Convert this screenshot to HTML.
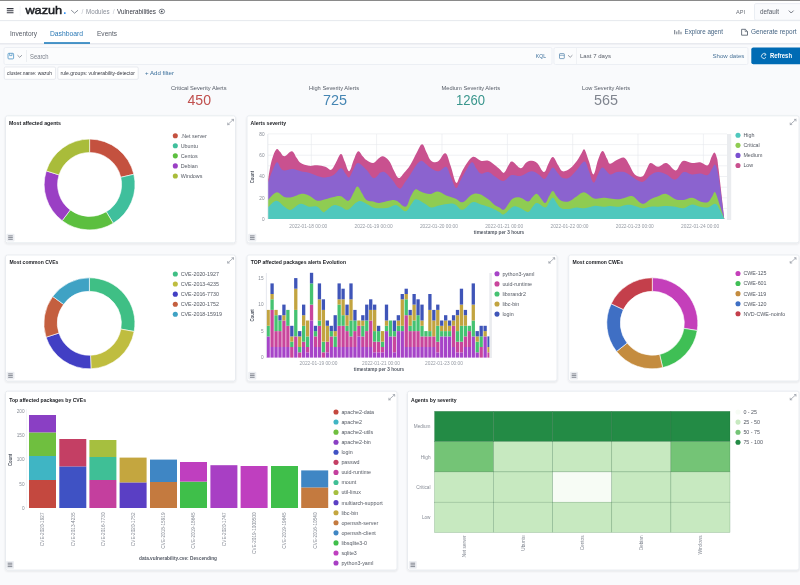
<!DOCTYPE html>
<html><head><meta charset="utf-8"><title>Wazuh - Vulnerabilities</title>
<style>
html,body{margin:0;padding:0;}
body{width:800px;height:585px;overflow:hidden;background:#f9fafc;font-family:"Liberation Sans", sans-serif;position:relative;}
svg{position:absolute;left:0;top:0;filter:blur(0.45px);}
svg text{font-family:"Liberation Sans", sans-serif;}
</style></head><body>
<svg width="800" height="585" viewBox="0 0 800 585">
<defs>
<filter id="sh" x="-5%" y="-5%" width="110%" height="115%"><feGaussianBlur in="SourceAlpha" stdDeviation="1.2"/><feOffset dy="0.8"/><feComponentTransfer><feFuncA type="linear" slope="0.10"/></feComponentTransfer><feMerge><feMergeNode/><feMergeNode in="SourceGraphic"/></feMerge></filter>
</defs>

<rect x="0" y="0" width="800" height="44" fill="#fff"/>
<rect x="0" y="0" width="800" height="1" fill="#8a8a8a"/>
<rect x="0" y="20.2" width="800" height="0.9" fill="#e3e6ec"/>
<rect x="0" y="43.4" width="800" height="0.9" fill="#d9dde4"/>
<g stroke="#343741" stroke-width="1.1"><path d="M6.8 8.6H13.5M6.8 10.7H13.5M6.8 12.8H13.5"/></g>
<rect x="19.8" y="6" width="0.5" height="10" fill="#eceff3"/>
<text x="25.4" y="14.35" font-size="10.9" fill="#1a1c21" stroke="#1a1c21" stroke-width="0.45" textLength="36.8" lengthAdjust="spacingAndGlyphs">wazuh</text>
<text x="63.2" y="14.4" font-size="11" font-weight="700" fill="#3595f9">.</text>
<path d="M71.2 10.2L74.6 13.2L78 10.2" stroke="#6a717d" stroke-width="0.8" fill="none"/>
<text x="81.6" y="14" font-size="6.8" fill="#c2c6ce">/</text>
<text x="86" y="13.8" font-size="6.3" fill="#8a8f99" textLength="23.5" lengthAdjust="spacingAndGlyphs">Modules</text>
<text x="112.8" y="14" font-size="6.8" fill="#c2c6ce">/</text>
<text x="117" y="13.8" font-size="6.3" fill="#343741" textLength="39.0" lengthAdjust="spacingAndGlyphs">Vulnerabilities</text>
<ellipse cx="161.9" cy="11.4" rx="2.7" ry="2.3" fill="none" stroke="#5a606b" stroke-width="0.75"/><circle cx="161.7" cy="11.4" r="0.95" fill="#3a3f49"/>
<text x="736" y="14" font-size="5.8" fill="#6b7079" textLength="9.0" lengthAdjust="spacingAndGlyphs">API</text>
<rect x="754.5" y="3.6" width="48" height="16.6" rx="1.5" fill="#fafbfd" stroke="#e3e7ee" stroke-width="0.7"/>
<text x="760" y="14" font-size="6.3" fill="#555b66" textLength="19.0" lengthAdjust="spacingAndGlyphs">default</text>
<path d="M788.8 10.6L791.2 13L793.6 10.6" stroke="#555b66" stroke-width="0.8" fill="none"/>
<text x="10" y="35.8" font-size="7" fill="#555b66" textLength="27.0" lengthAdjust="spacingAndGlyphs">Inventory</text>
<text x="50" y="35.8" font-size="7" fill="#2a78b5" textLength="33.0" lengthAdjust="spacingAndGlyphs">Dashboard</text>
<text x="97" y="35.8" font-size="7" fill="#555b66" textLength="20.0" lengthAdjust="spacingAndGlyphs">Events</text>
<rect x="44" y="42.3" width="46" height="1.4" fill="#006bb4"/>
<g stroke="#55606e" stroke-width="0.85" fill="none"><path d="M674.7 30V34.3M676.8 31.5V34.3M678.9 30V34.3M681 31.8V34.3"/></g>
<text x="684.5" y="34.3" font-size="6.3" fill="#466584" textLength="38.5" lengthAdjust="spacingAndGlyphs">Explore agent</text>
<path d="M741.6 29.3H745.4L747.5 31.4V35.2H741.6Z" stroke="#4a5563" stroke-width="0.8" fill="none"/><path d="M745.2 29.4V31.6H747.4" stroke="#4a5563" stroke-width="0.6" fill="none"/>
<text x="751" y="34.3" font-size="6.3" fill="#466584" textLength="45.6" lengthAdjust="spacingAndGlyphs">Generate report</text>
<rect x="4" y="47.5" width="548" height="17" rx="1.5" fill="#fbfcfd" stroke="#e6eaf0" stroke-width="0.7"/>
<rect x="8" y="53.3" width="5.6" height="5.6" rx="0.8" fill="none" stroke="#4d93c4" stroke-width="0.8"/><path d="M9.6 53.3V55.6H12V53.3" stroke="#4d93c4" stroke-width="0.7" fill="none"/>
<path d="M17.5 55.2L19.7 57.3L21.9 55.2" stroke="#6a717d" stroke-width="0.7" fill="none"/>
<rect x="26.2" y="50" width="0.6" height="12" fill="#e3e6ec"/>
<text x="30" y="58.6" font-size="6.5" fill="#7b818c" textLength="18.5" lengthAdjust="spacingAndGlyphs">Search</text>
<text x="535.8" y="58.2" font-size="5.4" fill="#3b6f9b" textLength="10.2" lengthAdjust="spacingAndGlyphs">KQL</text>
<rect x="554" y="47.5" width="194" height="17" rx="1.5" fill="#fbfcfd" stroke="#e6eaf0" stroke-width="0.7"/>
<rect x="559.5" y="53.6" width="4.8" height="5" rx="0.6" fill="none" stroke="#4d7fa8" stroke-width="0.7"/><path d="M559.5 55.3H564.3" stroke="#4d7fa8" stroke-width="0.6"/>
<path d="M568 55.2L570.2 57.3L572.4 55.2" stroke="#6a717d" stroke-width="0.7" fill="none"/>
<rect x="576" y="48" width="0.6" height="16" fill="#e9ecf1"/>
<text x="580" y="57.6" font-size="6.2" fill="#555b66" textLength="31.0" lengthAdjust="spacingAndGlyphs">Last 7 days</text>
<text x="712.5" y="57.5" font-size="6.2" fill="#4a7499" textLength="31.9" lengthAdjust="spacingAndGlyphs">Show dates</text>
<rect x="751.3" y="47.5" width="52" height="16.8" rx="2" fill="#006bb4"/>
<path d="M765.6 54.4A2.4 2.4 0 1 0 766 57.2" stroke="#fff" stroke-width="0.8" fill="none"/><path d="M764.6 53.2L766.2 54.6L764.4 55.6" stroke="#fff" stroke-width="0.7" fill="none"/>
<text x="770" y="57.9" font-size="6.3" fill="#fff" font-weight="700" textLength="22.0" lengthAdjust="spacingAndGlyphs">Refresh</text>
<rect x="4.3" y="67" width="51.2" height="12.3" rx="1.2" fill="#fff" stroke="#dfe3ea" stroke-width="0.7"/>
<text x="7" y="75.2" font-size="5.2" fill="#343741" textLength="45.0" lengthAdjust="spacingAndGlyphs">cluster.name: wazuh</text>
<rect x="57.8" y="67" width="80.4" height="12.3" rx="1.2" fill="#fff" stroke="#dfe3ea" stroke-width="0.7"/>
<text x="60.5" y="75.2" font-size="5.2" fill="#343741" textLength="74.5" lengthAdjust="spacingAndGlyphs">rule.groups: vulnerability-detector</text>
<text x="145" y="75.3" font-size="5.8" fill="#3b6f9b" textLength="29.0" lengthAdjust="spacingAndGlyphs">+ Add filter</text>
<text x="171" y="90.2" font-size="5.6" fill="#555b66" textLength="55.5" lengthAdjust="spacingAndGlyphs">Critical Severity Alerts</text>
<text x="187.5" y="105.4" font-size="14.2" fill="#c0504e" textLength="23.5" lengthAdjust="spacingAndGlyphs">450</text>
<text x="309" y="90.2" font-size="5.6" fill="#555b66" textLength="50.0" lengthAdjust="spacingAndGlyphs">High Severity Alerts</text>
<text x="323" y="105.4" font-size="14.2" fill="#4585b3" textLength="24.0" lengthAdjust="spacingAndGlyphs">725</text>
<text x="441.5" y="90.2" font-size="5.6" fill="#555b66" textLength="58.5" lengthAdjust="spacingAndGlyphs">Medium Severity Alerts</text>
<text x="456" y="105.4" font-size="14.2" fill="#3a968d" textLength="29.0" lengthAdjust="spacingAndGlyphs">1260</text>
<text x="582" y="90.2" font-size="5.6" fill="#555b66" textLength="48.0" lengthAdjust="spacingAndGlyphs">Low Severity Alerts</text>
<text x="594" y="105.4" font-size="14.2" fill="#80858f" textLength="24.0" lengthAdjust="spacingAndGlyphs">565</text>
<g filter="url(#sh)">
<rect x="5.5" y="115.8" width="230" height="127" rx="2" fill="#fff" stroke="#e4e8ee" stroke-width="0.8"/>
<rect x="247" y="115.8" width="552" height="127" rx="2" fill="#fff" stroke="#e4e8ee" stroke-width="0.8"/>
<rect x="5.5" y="255" width="230" height="126" rx="2" fill="#fff" stroke="#e4e8ee" stroke-width="0.8"/>
<rect x="247" y="255" width="310" height="126" rx="2" fill="#fff" stroke="#e4e8ee" stroke-width="0.8"/>
<rect x="568.7" y="255" width="230.3" height="126" rx="2" fill="#fff" stroke="#e4e8ee" stroke-width="0.8"/>
<rect x="5.5" y="391.2" width="391.5" height="178.8" rx="2" fill="#fff" stroke="#e4e8ee" stroke-width="0.8"/>
<rect x="407.5" y="391.2" width="391.5" height="178.8" rx="2" fill="#fff" stroke="#e4e8ee" stroke-width="0.8"/>
</g>
<text x="9" y="125.4" font-size="5.2" fill="#1a1c21" font-weight="700" textLength="52.0" lengthAdjust="spacingAndGlyphs">Most affected agents</text>
<g stroke="#9a9fa8" stroke-width="0.8" fill="none" stroke-linecap="round"><path d="M227.70000000000002 124.6L233.5 119.39999999999999"/><path d="M231.9 119.39999999999999H233.5V121.0"/><path d="M227.70000000000002 123.0V124.6H229.3"/></g>
<path d="M89.60 139.10A45.4 45.4 0 0 1 133.84 174.29L120.78 177.30A32 32 0 0 0 89.60 152.50Z" fill="#c4513f" stroke="#fff" stroke-width="0.6"/><path d="M133.84 174.29A45.4 45.4 0 0 1 113.25 223.25L106.27 211.81A32 32 0 0 0 120.78 177.30Z" fill="#3fbf9c" stroke="#fff" stroke-width="0.6"/><path d="M113.25 223.25A45.4 45.4 0 0 1 62.15 220.66L70.25 209.99A32 32 0 0 0 106.27 211.81Z" fill="#5cbf3f" stroke="#fff" stroke-width="0.6"/><path d="M62.15 220.66A45.4 45.4 0 0 1 46.28 170.92L59.06 174.93A32 32 0 0 0 70.25 209.99Z" fill="#9a3fc4" stroke="#fff" stroke-width="0.6"/><path d="M46.28 170.92A45.4 45.4 0 0 1 89.60 139.10L89.60 152.50A32 32 0 0 0 59.06 174.93Z" fill="#a9bc3a" stroke="#fff" stroke-width="0.6"/>
<circle cx="175.3" cy="135.70" r="2.55" fill="#c4513f"/><text x="180.70000000000002" y="137.60" font-size="5.35" fill="#535862">.Net server</text><circle cx="175.3" cy="145.77" r="2.55" fill="#3fbf9c"/><text x="180.70000000000002" y="147.67" font-size="5.35" fill="#535862">Ubuntu</text><circle cx="175.3" cy="155.84" r="2.55" fill="#5cbf3f"/><text x="180.70000000000002" y="157.74" font-size="5.35" fill="#535862">Centos</text><circle cx="175.3" cy="165.91" r="2.55" fill="#9a3fc4"/><text x="180.70000000000002" y="167.81" font-size="5.35" fill="#535862">Debian</text><circle cx="175.3" cy="175.98" r="2.55" fill="#a9bc3a"/><text x="180.70000000000002" y="177.88" font-size="5.35" fill="#535862">Windows</text>
<rect x="6.5" y="233.7" width="8" height="7.8" rx="1" fill="#eceef2"/><g stroke="#7a7f89" stroke-width="0.9"><path d="M8.2 235.89999999999998H12.8M8.2 237.6H12.8M8.2 239.29999999999998H12.8"/></g>
<text x="9.4" y="263.7" font-size="5.2" fill="#1a1c21" font-weight="700" textLength="49.0" lengthAdjust="spacingAndGlyphs">Most common CVEs</text>
<g stroke="#9a9fa8" stroke-width="0.8" fill="none" stroke-linecap="round"><path d="M227.70000000000002 263.0L233.5 257.8"/><path d="M231.9 257.8H233.5V259.4"/><path d="M227.70000000000002 261.4V263.0H229.3"/></g>
<path d="M89.40 277.80A45.5 45.5 0 0 1 134.15 331.51L120.87 329.08A32 32 0 0 0 89.40 291.30Z" fill="#3fbf85" stroke="#fff" stroke-width="0.6"/><path d="M134.15 331.51A45.5 45.5 0 0 1 90.99 368.77L90.52 355.28A32 32 0 0 0 120.87 329.08Z" fill="#bfbd3f" stroke="#fff" stroke-width="0.6"/><path d="M90.99 368.77A45.5 45.5 0 0 1 46.08 337.21L58.93 333.08A32 32 0 0 0 90.52 355.28Z" fill="#423fc4" stroke="#fff" stroke-width="0.6"/><path d="M46.08 337.21A45.5 45.5 0 0 1 52.68 296.43L63.58 304.40A32 32 0 0 0 58.93 333.08Z" fill="#c45f3f" stroke="#fff" stroke-width="0.6"/><path d="M52.68 296.43A45.5 45.5 0 0 1 89.40 277.80L89.40 291.30A32 32 0 0 0 63.58 304.40Z" fill="#3fa2c4" stroke="#fff" stroke-width="0.6"/>
<circle cx="175.3" cy="274.00" r="2.55" fill="#3fbf85"/><text x="180.70000000000002" y="275.90" font-size="5.35" fill="#535862">CVE-2020-1927</text><circle cx="175.3" cy="284.07" r="2.55" fill="#bfbd3f"/><text x="180.70000000000002" y="285.97" font-size="5.35" fill="#535862">CVE-2013-4235</text><circle cx="175.3" cy="294.14" r="2.55" fill="#423fc4"/><text x="180.70000000000002" y="296.04" font-size="5.35" fill="#535862">CVE-2016-7730</text><circle cx="175.3" cy="304.21" r="2.55" fill="#c45f3f"/><text x="180.70000000000002" y="306.11" font-size="5.35" fill="#535862">CVE-2020-1752</text><circle cx="175.3" cy="314.28" r="2.55" fill="#3fa2c4"/><text x="180.70000000000002" y="316.18" font-size="5.35" fill="#535862">CVE-2018-15919</text>
<rect x="6.5" y="371.7" width="8" height="7.8" rx="1" fill="#eceef2"/><g stroke="#7a7f89" stroke-width="0.9"><path d="M8.2 373.9H12.8M8.2 375.59999999999997H12.8M8.2 377.3H12.8"/></g>
<text x="572.5" y="263.7" font-size="5.2" fill="#1a1c21" font-weight="700" textLength="50.5" lengthAdjust="spacingAndGlyphs">Most common CWEs</text>
<g stroke="#9a9fa8" stroke-width="0.8" fill="none" stroke-linecap="round"><path d="M790.1999999999999 263.0L796.0 257.8"/><path d="M794.4 257.8H796.0V259.4"/><path d="M790.1999999999999 261.4V263.0H791.8"/></g>
<path d="M652.30 277.80A45.5 45.5 0 0 1 697.23 330.50L683.90 328.36A32 32 0 0 0 652.30 291.30Z" fill="#c43fba" stroke="#fff" stroke-width="0.6"/><path d="M697.23 330.50A45.5 45.5 0 0 1 662.69 367.60L659.61 354.45A32 32 0 0 0 683.90 328.36Z" fill="#3fbf55" stroke="#fff" stroke-width="0.6"/><path d="M662.69 367.60A45.5 45.5 0 0 1 616.54 351.44L627.15 343.09A32 32 0 0 0 659.61 354.45Z" fill="#c48c3f" stroke="#fff" stroke-width="0.6"/><path d="M616.54 351.44A45.5 45.5 0 0 1 611.20 303.78L623.39 309.57A32 32 0 0 0 627.15 343.09Z" fill="#3f6fc4" stroke="#fff" stroke-width="0.6"/><path d="M611.20 303.78A45.5 45.5 0 0 1 652.30 277.80L652.30 291.30A32 32 0 0 0 623.39 309.57Z" fill="#c43f4b" stroke="#fff" stroke-width="0.6"/>
<circle cx="738" cy="273.50" r="2.55" fill="#c43fba"/><text x="743.4" y="275.40" font-size="5.35" fill="#535862">CWE-125</text><circle cx="738" cy="283.57" r="2.55" fill="#3fbf55"/><text x="743.4" y="285.47" font-size="5.35" fill="#535862">CWE-601</text><circle cx="738" cy="293.64" r="2.55" fill="#c48c3f"/><text x="743.4" y="295.54" font-size="5.35" fill="#535862">CWE-119</text><circle cx="738" cy="303.71" r="2.55" fill="#3f6fc4"/><text x="743.4" y="305.61" font-size="5.35" fill="#535862">CWE-120</text><circle cx="738" cy="313.78" r="2.55" fill="#c43f4b"/><text x="743.4" y="315.68" font-size="5.35" fill="#535862">NVD-CWE-noinfo</text>
<rect x="570.0" y="371.7" width="8" height="7.8" rx="1" fill="#eceef2"/><g stroke="#7a7f89" stroke-width="0.9"><path d="M571.7 373.9H576.3M571.7 375.59999999999997H576.3M571.7 377.3H576.3"/></g>
<text x="250.5" y="125.4" font-size="5.2" fill="#1a1c21" font-weight="700" textLength="35.5" lengthAdjust="spacingAndGlyphs">Alerts severity</text>
<g stroke="#9a9fa8" stroke-width="0.8" fill="none" stroke-linecap="round"><path d="M790.1999999999999 124.6L796.0 119.39999999999999"/><path d="M794.4 119.39999999999999H796.0V121.0"/><path d="M790.1999999999999 123.0V124.6H791.8"/></g>
<path d="M268 208.4H727" stroke="#e6e8ec" stroke-width="0.6"/><path d="M268 197.8H727" stroke="#e6e8ec" stroke-width="0.6"/><path d="M268 187.2H727" stroke="#e6e8ec" stroke-width="0.6"/><path d="M268 176.5H727" stroke="#e6e8ec" stroke-width="0.6"/><path d="M268 165.8H727" stroke="#e6e8ec" stroke-width="0.6"/><path d="M268 155.2H727" stroke="#e6e8ec" stroke-width="0.6"/><path d="M268 144.6H727" stroke="#e6e8ec" stroke-width="0.6"/><path d="M268 133.9H727" stroke="#e6e8ec" stroke-width="0.6"/><path d="M311.3 134V219.1" stroke="#e6e8ec" stroke-width="0.6"/><path d="M376.6 134V219.1" stroke="#e6e8ec" stroke-width="0.6"/><path d="M442.0 134V219.1" stroke="#e6e8ec" stroke-width="0.6"/><path d="M507.4 134V219.1" stroke="#e6e8ec" stroke-width="0.6"/><path d="M572.7 134V219.1" stroke="#e6e8ec" stroke-width="0.6"/><path d="M638.0 134V219.1" stroke="#e6e8ec" stroke-width="0.6"/><path d="M703.4 134V219.1" stroke="#e6e8ec" stroke-width="0.6"/>
<path d="M268.0 219.1L268.0 179.6C268.7 176.1 270.3 165.5 271.8 160.1C273.3 154.7 274.8 151.0 276.3 149.5C277.8 148.1 278.6 150.6 280.0 151.8C281.5 153.0 282.3 156.4 284.4 156.3C286.5 156.2 289.6 151.1 291.8 151.3C294.0 151.6 295.0 155.7 296.6 157.8C298.2 159.9 298.6 161.6 300.8 163.1C303.0 164.5 306.0 165.4 308.9 165.8C311.9 166.2 314.2 165.1 317.2 165.3C320.1 165.5 322.8 166.0 325.3 166.8C327.8 167.6 329.3 170.5 331.2 169.8C333.0 169.2 333.9 165.9 335.7 163.1C337.4 160.2 339.3 154.3 340.9 154.1C342.6 153.8 343.2 158.5 344.7 161.6C346.2 164.7 347.6 171.6 349.2 171.3C350.8 171.1 352.1 163.7 353.7 160.1C355.3 156.5 356.5 152.0 358.1 151.3C359.7 150.7 361.3 154.7 362.7 156.3C364.2 157.9 364.5 158.8 366.4 160.1C368.2 161.3 371.1 163.3 373.3 163.1C375.5 162.8 376.8 159.8 378.5 158.6C380.3 157.3 381.1 155.9 383.0 156.3C384.9 156.7 387.0 158.1 389.0 160.8C391.1 163.5 392.5 168.2 394.3 171.3C396.0 174.5 397.0 177.8 398.8 178.1C400.6 178.4 402.0 175.2 404.1 172.8C406.1 170.5 407.8 169.0 410.1 165.3C412.4 161.7 414.7 156.3 416.8 152.5C419.0 148.8 420.3 144.3 422.1 144.3C423.9 144.3 425.0 149.6 426.6 152.5C428.2 155.5 429.1 159.2 431.1 160.8C433.2 162.4 435.3 162.9 437.9 161.6C440.5 160.2 443.1 152.5 445.4 153.3C447.7 154.1 448.8 160.8 450.7 166.1C452.6 171.4 454.3 180.7 455.9 182.6C457.6 184.5 458.2 179.3 459.7 176.6C461.2 173.9 461.9 171.1 464.2 167.6C466.5 164.1 469.5 158.3 472.5 157.1C475.5 155.8 477.9 160.1 480.8 160.8C483.6 161.5 485.7 160.0 488.3 160.8C490.8 161.6 493.0 163.8 495.0 165.3C497.0 166.8 497.9 167.7 499.5 169.1C501.1 170.4 502.4 173.5 504.0 172.8C505.6 172.2 507.0 167.4 508.5 165.3C510.0 163.3 510.1 161.0 512.3 161.6C514.5 162.1 518.1 168.1 520.6 168.3C523.0 168.6 524.1 164.4 525.8 163.1C527.6 161.7 528.3 160.8 530.3 160.8C532.4 160.8 534.7 161.0 537.1 163.1C539.5 165.1 541.8 172.0 543.9 172.1C545.9 172.2 546.8 166.5 548.4 163.8C550.0 161.1 551.1 156.8 552.9 157.1C554.7 157.3 556.4 162.8 558.2 165.3C559.9 167.9 560.5 170.8 562.7 171.3C564.8 171.9 567.6 170.2 570.2 168.3C572.8 166.4 574.9 163.5 577.0 160.8C579.0 158.1 580.1 155.3 581.5 153.3C582.8 151.3 583.1 148.1 584.5 149.5C585.8 151.0 587.4 157.1 589.0 161.6C590.6 166.0 591.9 174.6 593.5 174.4C595.1 174.1 596.4 164.3 598.0 160.1C599.6 155.9 600.9 151.3 602.5 151.0C604.1 150.8 605.7 156.3 607.0 158.6C608.4 160.9 608.2 163.6 610.0 163.8C611.8 164.1 614.2 161.2 616.8 160.1C619.3 159.0 622.0 156.9 624.3 157.8C626.6 158.8 627.7 162.4 629.5 165.3C631.4 168.3 632.5 172.3 634.8 174.4C637.1 176.4 640.2 177.6 642.3 176.6C644.5 175.7 645.4 171.5 646.8 169.1C648.3 166.7 648.6 163.5 650.6 163.1C652.6 162.7 655.3 166.8 658.1 166.8C661.0 166.8 663.3 162.4 666.4 163.1C669.5 163.8 673.0 170.3 675.4 170.6C677.8 170.9 678.4 166.3 679.9 164.6C681.4 162.8 681.5 161.1 683.7 160.8C685.8 160.5 689.0 162.8 692.0 163.1C694.9 163.3 697.4 161.9 700.2 162.3C703.1 162.7 705.7 166.3 707.7 165.3C709.8 164.4 710.3 159.4 711.5 157.1C712.7 154.8 713.5 152.3 714.5 152.5C715.5 152.8 716.3 155.6 717.1 158.6C717.8 161.5 717.3 158.2 718.6 169.1C719.9 180.0 723.3 210.0 724.3 219.0L724.3 219.1Z" fill="#c9518f"/>
<path d="M268.0 219.1L268.0 182.6C268.8 180.5 270.9 174.2 272.5 170.6C274.1 166.9 275.5 162.7 277.0 162.3C278.5 161.9 279.5 166.8 280.8 168.3C282.1 169.8 282.3 170.5 284.4 170.6C286.5 170.7 289.6 169.0 292.5 169.1C295.5 169.2 297.8 170.7 300.8 171.3C303.7 172.0 306.0 172.0 308.9 172.8C311.9 173.7 314.2 175.0 317.2 175.9C320.1 176.7 322.4 177.5 325.3 177.4C328.3 177.2 330.8 176.7 333.6 175.1C336.4 173.5 338.8 168.6 340.9 168.3C343.1 168.1 344.0 172.0 345.5 173.6C346.9 175.2 347.7 178.2 349.2 177.4C350.7 176.5 352.1 171.7 353.7 169.1C355.3 166.5 355.8 162.9 358.1 163.1C360.4 163.2 363.6 167.1 366.4 169.8C369.1 172.5 371.1 177.3 373.3 178.1C375.5 178.9 377.3 175.3 378.5 174.4C379.7 173.4 378.9 173.3 380.0 172.8C381.1 172.4 382.3 170.9 384.5 172.1C386.7 173.3 389.3 176.6 392.0 179.6C394.7 182.6 397.2 188.1 399.5 188.6C401.8 189.2 402.9 185.1 404.8 182.6C406.7 180.2 408.0 178.2 410.1 175.1C412.1 172.0 414.1 167.9 416.1 165.3C418.1 162.8 419.5 161.0 421.4 160.8C423.2 160.7 424.9 163.2 426.6 164.6C428.4 165.9 429.0 167.1 431.1 168.3C433.3 169.6 435.9 171.6 438.6 171.3C441.4 171.1 444.0 165.9 446.2 166.8C448.3 167.8 448.9 172.8 450.7 176.6C452.4 180.4 454.3 186.9 455.9 187.9C457.6 188.8 458.2 184.4 459.7 181.9C461.2 179.3 462.0 177.1 464.2 173.6C466.4 170.1 469.6 163.3 471.7 162.3C473.9 161.4 474.6 166.3 476.2 168.3C477.9 170.4 478.6 172.9 480.8 173.6C482.9 174.3 485.7 171.6 488.3 172.1C490.8 172.6 492.3 175.0 495.0 176.6C497.7 178.2 500.3 181.4 503.3 181.1C506.2 180.8 508.4 176.1 511.5 175.1C514.7 174.2 517.0 176.5 520.6 175.9C524.1 175.2 527.8 171.6 531.1 171.3C534.3 171.1 536.2 173.0 538.6 174.4C541.0 175.7 542.7 179.1 544.6 178.9C546.5 178.6 547.6 174.9 549.1 172.8C550.6 170.8 551.3 167.5 552.9 167.6C554.5 167.7 556.4 171.7 558.2 173.6C559.9 175.5 560.6 177.4 562.7 178.1C564.7 178.8 566.9 178.8 569.4 177.4C572.0 175.9 574.2 172.7 577.0 169.8C579.7 167.0 582.3 161.3 584.5 161.6C586.6 161.8 587.4 167.6 589.0 171.3C590.6 175.1 591.9 182.1 593.5 182.6C595.1 183.2 596.4 177.1 598.0 174.4C599.6 171.6 600.4 167.6 602.5 167.6C604.7 167.6 607.4 173.5 610.0 174.4C612.6 175.2 614.2 172.5 616.8 172.1C619.3 171.7 621.7 171.4 624.3 172.1C626.9 172.8 627.8 174.1 631.1 175.9C634.3 177.6 638.8 182.0 642.3 181.9C645.8 181.7 647.8 176.9 650.6 175.1C653.4 173.3 655.3 172.2 658.1 172.1C661.0 172.0 663.3 173.0 666.4 174.4C669.5 175.7 672.3 180.0 675.4 179.6C678.5 179.2 680.7 173.0 683.7 172.1C686.7 171.2 689.0 174.1 692.0 174.4C694.9 174.6 697.4 173.5 700.2 173.6C703.1 173.7 705.6 176.1 707.7 175.1C709.9 174.2 710.9 170.2 712.3 168.3C713.6 166.5 714.1 163.4 715.3 164.9C716.4 166.4 716.9 166.9 718.6 176.6C720.2 186.4 723.3 211.4 724.3 219.0L724.3 219.1Z" fill="#8b63cf"/>
<path d="M268.0 219.1L268.0 199.9C269.5 198.6 273.3 192.9 276.3 192.4C279.2 191.9 281.5 196.1 284.4 196.9C287.3 197.7 289.6 197.5 292.5 196.9C295.5 196.4 297.8 194.2 300.8 193.9C303.7 193.6 306.0 194.2 308.9 195.4C311.9 196.6 314.2 200.0 317.2 200.7C320.1 201.3 322.4 199.8 325.3 199.2C328.3 198.5 330.8 197.5 333.6 196.9C336.4 196.4 338.3 195.5 340.9 196.2C343.6 196.8 346.2 201.3 348.5 200.7C350.8 200.0 352.1 195.0 353.7 192.4C355.3 189.8 356.0 186.2 357.5 186.4C359.0 186.5 360.4 190.7 362.0 193.2C363.6 195.6 364.3 198.4 366.4 199.9C368.4 201.4 370.9 200.9 373.3 201.4C375.6 202.0 376.5 203.1 379.3 202.9C382.1 202.8 385.9 201.1 389.0 200.7C392.1 200.3 393.6 199.6 396.5 200.7C399.5 201.8 403.0 207.5 405.6 206.7C408.1 205.9 409.1 199.3 410.8 196.2C412.6 193.0 413.6 190.2 415.3 189.4C417.1 188.6 418.8 191.0 420.6 191.6C422.4 192.3 423.2 192.7 425.1 193.2C427.0 193.6 428.8 194.2 431.1 193.9C433.4 193.6 435.2 191.4 437.9 191.6C440.6 191.9 443.1 194.2 446.2 195.4C449.3 196.6 452.2 197.2 455.2 198.4C458.2 199.6 459.7 202.8 462.7 202.2C465.7 201.5 468.8 196.1 471.7 194.7C474.7 193.2 476.3 193.1 479.2 193.9C482.2 194.7 485.4 197.1 488.3 199.2C491.1 201.2 493.0 203.7 495.0 205.2C497.0 206.7 497.9 206.6 499.5 207.4C501.1 208.2 502.4 210.4 504.0 209.7C505.6 209.0 506.9 205.7 508.5 203.7C510.2 201.6 510.9 199.5 513.0 198.4C515.2 197.3 517.9 197.1 520.6 197.7C523.3 198.2 525.9 201.6 528.1 201.4C530.2 201.3 531.0 198.3 532.6 196.9C534.2 195.6 535.5 193.5 537.1 193.9C538.7 194.3 540.1 197.5 541.6 199.2C543.1 200.8 544.0 203.5 545.4 202.9C546.7 202.4 547.8 198.3 549.1 196.2C550.5 194.0 551.5 190.9 552.9 190.9C554.2 190.9 555.2 194.4 556.7 196.2C558.1 197.9 559.0 199.7 561.2 200.7C563.3 201.6 565.8 202.2 568.7 201.4C571.5 200.6 574.1 197.8 577.0 196.2C579.8 194.5 581.4 192.0 584.5 192.4C587.6 192.8 590.9 197.5 594.2 198.4C597.6 199.4 600.4 197.7 603.3 197.7C606.1 197.7 607.2 198.1 610.0 198.4C612.8 198.7 616.3 199.3 619.0 199.2C621.7 199.0 622.6 198.2 625.0 197.7C627.5 197.1 629.4 195.1 632.6 196.2C635.7 197.2 639.1 203.1 642.3 203.7C645.6 204.2 647.8 200.5 650.6 199.2C653.4 197.8 655.3 197.1 658.1 196.2C661.0 195.2 663.3 193.4 666.4 193.9C669.5 194.4 672.3 198.1 675.4 199.2C678.5 200.2 680.7 200.2 683.7 199.9C686.7 199.6 689.0 197.4 692.0 197.7C694.9 197.9 697.4 200.6 700.2 201.4C703.1 202.2 705.6 203.1 707.7 202.2C709.9 201.2 710.9 197.9 712.3 196.2C713.6 194.4 713.9 190.8 715.3 192.4C716.6 194.0 718.2 200.4 719.8 205.2C721.4 210.0 723.5 216.5 724.3 219.0L724.3 219.1Z" fill="#8fcc52"/>
<path d="M268.0 219.1L268.0 207.4C269.5 206.2 273.3 200.8 276.3 200.7C279.2 200.5 282.1 205.1 284.4 206.7C286.7 208.3 287.6 209.3 289.1 209.7C290.5 210.1 290.4 210.0 292.5 208.9C294.6 207.9 297.8 204.1 300.8 203.7C303.7 203.3 306.0 206.1 308.9 206.7C311.9 207.2 314.7 205.7 317.2 206.7C319.7 207.6 321.4 211.1 322.9 211.9C324.4 212.8 323.4 212.4 325.3 211.2C327.2 210.0 330.8 206.0 333.6 205.2C336.4 204.4 338.4 205.9 340.9 206.7C343.5 207.5 344.6 210.6 347.7 209.7C350.8 208.7 354.7 202.5 358.1 201.4C361.4 200.3 363.6 202.6 366.4 203.7C369.1 204.8 370.9 206.6 373.3 207.4C375.6 208.2 376.5 208.2 379.3 208.2C382.1 208.2 385.9 208.0 389.0 207.4C392.1 206.9 393.6 204.5 396.5 205.2C399.5 205.9 402.9 211.5 405.6 211.2C408.3 210.9 409.7 205.8 411.6 203.7C413.5 201.5 413.7 199.2 416.1 199.2C418.5 199.2 422.4 202.2 425.1 203.7C427.8 205.2 428.4 207.2 431.1 207.4C433.8 207.7 436.9 205.9 440.2 205.2C443.4 204.5 446.5 203.8 449.2 203.7C451.9 203.5 452.8 203.3 455.2 204.4C457.6 205.5 459.6 210.1 462.7 209.7C465.8 209.3 469.2 203.1 472.5 202.2C475.7 201.2 477.9 203.6 480.8 204.4C483.6 205.2 485.7 205.7 488.3 206.7C490.8 207.6 493.0 208.7 495.0 209.7C497.0 210.6 497.9 211.1 499.5 211.9C501.1 212.8 501.6 215.2 504.0 214.2C506.5 213.3 510.1 207.8 513.0 206.7C516.0 205.6 517.9 207.2 520.6 208.2C523.3 209.1 525.9 212.2 528.1 211.9C530.2 211.7 531.0 208.3 532.6 206.7C534.2 205.1 534.8 202.8 537.1 202.9C539.4 203.1 543.2 207.6 545.4 207.4C547.5 207.3 547.8 203.9 549.1 202.2C550.5 200.4 551.5 197.5 552.9 197.7C554.2 197.8 555.2 201.0 556.7 202.9C558.1 204.8 559.0 207.1 561.2 208.2C563.3 209.3 565.8 209.1 568.7 208.9C571.5 208.8 574.1 207.6 577.0 207.4C579.8 207.3 581.4 208.5 584.5 208.2C587.6 207.9 590.9 206.2 594.2 205.9C597.6 205.7 600.4 206.7 603.3 206.7C606.1 206.7 607.2 205.9 610.0 205.9C612.8 205.9 616.3 206.8 619.0 206.7C621.7 206.5 622.6 205.5 625.0 205.2C627.5 204.9 629.4 204.6 632.6 205.2C635.7 205.7 639.1 207.9 642.3 208.2C645.6 208.5 647.8 207.0 650.6 206.7C653.4 206.4 655.3 206.8 658.1 206.7C661.0 206.5 663.3 205.9 666.4 205.9C669.5 205.9 672.3 206.3 675.4 206.7C678.5 207.1 680.7 208.6 683.7 208.2C686.7 207.8 689.0 204.7 692.0 204.4C694.9 204.2 697.4 206.1 700.2 206.7C703.1 207.2 705.0 208.0 707.7 207.4C710.5 206.9 713.1 203.3 715.3 203.7C717.4 204.1 718.2 206.9 719.8 209.7C721.4 212.5 723.5 217.3 724.3 219.0L724.3 219.1Z" fill="#4fc8bd"/>
<path d="M267.8 134V219.1" stroke="#dfe3ea" stroke-width="0.8"/>
<rect x="727" y="134" width="4.2" height="86" fill="#eaecef"/>
<text x="264.5" y="220.8" font-size="4.7" fill="#868b95" text-anchor="end">0</text>
<text x="264.5" y="199.5" font-size="4.7" fill="#868b95" text-anchor="end">20</text>
<text x="264.5" y="178.2" font-size="4.7" fill="#868b95" text-anchor="end">40</text>
<text x="264.5" y="156.9" font-size="4.7" fill="#868b95" text-anchor="end">60</text>
<text x="264.5" y="135.6" font-size="4.7" fill="#868b95" text-anchor="end">80</text>
<text transform="translate(253.6,183.2) rotate(-90)" font-size="4.7" font-weight="700" fill="#555b66" textLength="12.3" lengthAdjust="spacingAndGlyphs">Count</text>
<text x="289.3" y="228" font-size="4.9" fill="#959aa3" textLength="38.0" lengthAdjust="spacingAndGlyphs">2022-01-18 00:00</text>
<text x="354.6" y="228" font-size="4.9" fill="#959aa3" textLength="38.0" lengthAdjust="spacingAndGlyphs">2022-01-19 00:00</text>
<text x="419.9" y="228" font-size="4.9" fill="#959aa3" textLength="38.0" lengthAdjust="spacingAndGlyphs">2022-01-20 00:00</text>
<text x="485.2" y="228" font-size="4.9" fill="#959aa3" textLength="38.0" lengthAdjust="spacingAndGlyphs">2022-01-21 00:00</text>
<text x="550.5" y="228" font-size="4.9" fill="#959aa3" textLength="38.0" lengthAdjust="spacingAndGlyphs">2022-01-22 00:00</text>
<text x="615.8" y="228" font-size="4.9" fill="#959aa3" textLength="38.0" lengthAdjust="spacingAndGlyphs">2022-01-23 00:00</text>
<text x="681.1" y="228" font-size="4.9" fill="#959aa3" textLength="38.0" lengthAdjust="spacingAndGlyphs">2022-01-24 00:00</text>
<text x="473.8" y="233.8" font-size="4.8" fill="#555b66" font-weight="700" textLength="50.4" lengthAdjust="spacingAndGlyphs">timestamp per 3 hours</text>
<circle cx="738" cy="135.30" r="2.55" fill="#4fc8bd"/><text x="743.4" y="137.20" font-size="5.35" fill="#535862">High</text><circle cx="738" cy="145.35" r="2.55" fill="#8fcc52"/><text x="743.4" y="147.25" font-size="5.35" fill="#535862">Critical</text><circle cx="738" cy="155.40" r="2.55" fill="#7a4fd0"/><text x="743.4" y="157.30" font-size="5.35" fill="#535862">Medium</text><circle cx="738" cy="165.45" r="2.55" fill="#c9518f"/><text x="743.4" y="167.35" font-size="5.35" fill="#535862">Low</text>
<rect x="248.3" y="233.7" width="8" height="7.8" rx="1" fill="#eceef2"/><g stroke="#7a7f89" stroke-width="0.9"><path d="M250.0 235.89999999999998H254.60000000000002M250.0 237.6H254.60000000000002M250.0 239.29999999999998H254.60000000000002"/></g>
<text x="250.8" y="263.7" font-size="5.2" fill="#1a1c21" font-weight="700" textLength="95.2" lengthAdjust="spacingAndGlyphs">TOP affected packages alerts Evolution</text>
<g stroke="#9a9fa8" stroke-width="0.8" fill="none" stroke-linecap="round"><path d="M548.9 263.0L554.7 257.8"/><path d="M553.1 257.8H554.7V259.4"/><path d="M548.9 261.4V263.0H550.5"/></g>
<rect x="266.50" y="336.40" width="3.3" height="21.20" fill="#a644c8"/><rect x="266.50" y="325.80" width="3.3" height="10.60" fill="#45c271"/><rect x="266.50" y="309.90" width="3.3" height="15.90" fill="#c2a440"/><rect x="270.44" y="347.00" width="3.3" height="10.60" fill="#a644c8"/><rect x="270.44" y="309.90" width="3.3" height="37.10" fill="#c9459c"/><rect x="270.44" y="299.30" width="3.3" height="10.60" fill="#45c271"/><rect x="270.44" y="294.00" width="3.3" height="5.30" fill="#c2a440"/><rect x="270.44" y="283.40" width="3.3" height="10.60" fill="#3f55b8"/><rect x="274.39" y="347.00" width="3.3" height="10.60" fill="#a644c8"/><rect x="274.39" y="331.10" width="3.3" height="15.90" fill="#c9459c"/><rect x="274.39" y="315.20" width="3.3" height="15.90" fill="#45c271"/><rect x="274.39" y="309.90" width="3.3" height="5.30" fill="#c2a440"/><rect x="278.33" y="347.00" width="3.3" height="10.60" fill="#a644c8"/><rect x="278.33" y="331.10" width="3.3" height="15.90" fill="#c9459c"/><rect x="278.33" y="320.50" width="3.3" height="10.60" fill="#45c271"/><rect x="278.33" y="315.20" width="3.3" height="5.30" fill="#3f55b8"/><rect x="282.28" y="347.00" width="3.3" height="10.60" fill="#a644c8"/><rect x="282.28" y="320.50" width="3.3" height="26.50" fill="#c9459c"/><rect x="282.28" y="315.20" width="3.3" height="5.30" fill="#c2a440"/><rect x="282.28" y="304.60" width="3.3" height="10.60" fill="#3f55b8"/><rect x="286.23" y="347.00" width="3.3" height="10.60" fill="#a644c8"/><rect x="286.23" y="325.80" width="3.3" height="21.20" fill="#c9459c"/><rect x="286.23" y="309.90" width="3.3" height="15.90" fill="#45c271"/><rect x="290.17" y="347.00" width="3.3" height="10.60" fill="#c9459c"/><rect x="290.17" y="341.70" width="3.3" height="5.30" fill="#45c271"/><rect x="290.17" y="336.40" width="3.3" height="5.30" fill="#c2a440"/><rect x="290.17" y="325.80" width="3.3" height="10.60" fill="#3f55b8"/><rect x="294.12" y="347.00" width="3.3" height="10.60" fill="#a644c8"/><rect x="294.12" y="336.40" width="3.3" height="10.60" fill="#c9459c"/><rect x="294.12" y="309.90" width="3.3" height="26.50" fill="#45c271"/><rect x="294.12" y="288.70" width="3.3" height="21.20" fill="#c2a440"/><rect x="294.12" y="278.10" width="3.3" height="10.60" fill="#3f55b8"/><rect x="298.06" y="352.30" width="3.3" height="5.30" fill="#c9459c"/><rect x="298.06" y="347.00" width="3.3" height="5.30" fill="#45c271"/><rect x="298.06" y="336.40" width="3.3" height="10.60" fill="#c2a440"/><rect x="298.06" y="331.10" width="3.3" height="5.30" fill="#3f55b8"/><rect x="302.00" y="347.00" width="3.3" height="10.60" fill="#a644c8"/><rect x="302.00" y="341.70" width="3.3" height="5.30" fill="#c9459c"/><rect x="302.00" y="325.80" width="3.3" height="15.90" fill="#45c271"/><rect x="302.00" y="315.20" width="3.3" height="10.60" fill="#c2a440"/><rect x="302.00" y="304.60" width="3.3" height="10.60" fill="#3f55b8"/><rect x="305.95" y="352.30" width="3.3" height="5.30" fill="#a644c8"/><rect x="305.95" y="347.00" width="3.3" height="5.30" fill="#c9459c"/><rect x="305.95" y="336.40" width="3.3" height="10.60" fill="#45c271"/><rect x="305.95" y="320.50" width="3.3" height="15.90" fill="#c2a440"/><rect x="309.89" y="320.50" width="3.3" height="37.10" fill="#a644c8"/><rect x="309.89" y="304.60" width="3.3" height="15.90" fill="#c9459c"/><rect x="309.89" y="283.40" width="3.3" height="21.20" fill="#45c271"/><rect x="309.89" y="272.80" width="3.3" height="10.60" fill="#3f55b8"/><rect x="313.84" y="347.00" width="3.3" height="10.60" fill="#a644c8"/><rect x="313.84" y="336.40" width="3.3" height="10.60" fill="#c9459c"/><rect x="313.84" y="331.10" width="3.3" height="5.30" fill="#45c271"/><rect x="313.84" y="325.80" width="3.3" height="5.30" fill="#3f55b8"/><rect x="317.78" y="347.00" width="3.3" height="10.60" fill="#a644c8"/><rect x="317.78" y="325.80" width="3.3" height="21.20" fill="#c9459c"/><rect x="317.78" y="320.50" width="3.3" height="5.30" fill="#45c271"/><rect x="317.78" y="299.30" width="3.3" height="21.20" fill="#c2a440"/><rect x="317.78" y="283.40" width="3.3" height="15.90" fill="#3f55b8"/><rect x="321.73" y="352.30" width="3.3" height="5.30" fill="#c9459c"/><rect x="321.73" y="341.70" width="3.3" height="10.60" fill="#45c271"/><rect x="321.73" y="309.90" width="3.3" height="31.80" fill="#c2a440"/><rect x="321.73" y="299.30" width="3.3" height="10.60" fill="#3f55b8"/><rect x="325.68" y="352.30" width="3.3" height="5.30" fill="#a644c8"/><rect x="325.68" y="341.70" width="3.3" height="10.60" fill="#c9459c"/><rect x="325.68" y="325.80" width="3.3" height="15.90" fill="#c2a440"/><rect x="325.68" y="320.50" width="3.3" height="5.30" fill="#3f55b8"/><rect x="329.62" y="347.00" width="3.3" height="10.60" fill="#a644c8"/><rect x="329.62" y="336.40" width="3.3" height="10.60" fill="#c9459c"/><rect x="329.62" y="331.10" width="3.3" height="5.30" fill="#45c271"/><rect x="329.62" y="325.80" width="3.3" height="5.30" fill="#3f55b8"/><rect x="333.56" y="347.00" width="3.3" height="10.60" fill="#a644c8"/><rect x="333.56" y="336.40" width="3.3" height="10.60" fill="#45c271"/><rect x="333.56" y="331.10" width="3.3" height="5.30" fill="#c2a440"/><rect x="333.56" y="315.20" width="3.3" height="15.90" fill="#3f55b8"/><rect x="337.51" y="347.00" width="3.3" height="10.60" fill="#a644c8"/><rect x="337.51" y="325.80" width="3.3" height="21.20" fill="#c9459c"/><rect x="337.51" y="304.60" width="3.3" height="21.20" fill="#45c271"/><rect x="337.51" y="299.30" width="3.3" height="5.30" fill="#c2a440"/><rect x="337.51" y="283.40" width="3.3" height="15.90" fill="#3f55b8"/><rect x="341.45" y="347.00" width="3.3" height="10.60" fill="#a644c8"/><rect x="341.45" y="325.80" width="3.3" height="21.20" fill="#c9459c"/><rect x="341.45" y="315.20" width="3.3" height="10.60" fill="#45c271"/><rect x="341.45" y="299.30" width="3.3" height="15.90" fill="#c2a440"/><rect x="341.45" y="288.70" width="3.3" height="10.60" fill="#3f55b8"/><rect x="345.40" y="347.00" width="3.3" height="10.60" fill="#a644c8"/><rect x="345.40" y="331.10" width="3.3" height="15.90" fill="#c9459c"/><rect x="345.40" y="325.80" width="3.3" height="5.30" fill="#45c271"/><rect x="345.40" y="315.20" width="3.3" height="10.60" fill="#c2a440"/><rect x="345.40" y="304.60" width="3.3" height="10.60" fill="#3f55b8"/><rect x="349.35" y="347.00" width="3.3" height="10.60" fill="#a644c8"/><rect x="349.35" y="336.40" width="3.3" height="10.60" fill="#c9459c"/><rect x="349.35" y="320.50" width="3.3" height="15.90" fill="#45c271"/><rect x="349.35" y="299.30" width="3.3" height="21.20" fill="#c2a440"/><rect x="349.35" y="283.40" width="3.3" height="15.90" fill="#3f55b8"/><rect x="353.29" y="347.00" width="3.3" height="10.60" fill="#a644c8"/><rect x="353.29" y="331.10" width="3.3" height="15.90" fill="#c9459c"/><rect x="353.29" y="320.50" width="3.3" height="10.60" fill="#45c271"/><rect x="353.29" y="309.90" width="3.3" height="10.60" fill="#3f55b8"/><rect x="357.24" y="336.40" width="3.3" height="21.20" fill="#a644c8"/><rect x="357.24" y="325.80" width="3.3" height="10.60" fill="#c9459c"/><rect x="357.24" y="320.50" width="3.3" height="5.30" fill="#c2a440"/><rect x="361.18" y="347.00" width="3.3" height="10.60" fill="#a644c8"/><rect x="361.18" y="336.40" width="3.3" height="10.60" fill="#c9459c"/><rect x="361.18" y="325.80" width="3.3" height="10.60" fill="#45c271"/><rect x="361.18" y="320.50" width="3.3" height="5.30" fill="#c2a440"/><rect x="361.18" y="315.20" width="3.3" height="5.30" fill="#3f55b8"/><rect x="365.12" y="347.00" width="3.3" height="10.60" fill="#a644c8"/><rect x="365.12" y="331.10" width="3.3" height="15.90" fill="#c9459c"/><rect x="365.12" y="320.50" width="3.3" height="10.60" fill="#45c271"/><rect x="365.12" y="304.60" width="3.3" height="15.90" fill="#3f55b8"/><rect x="369.07" y="347.00" width="3.3" height="10.60" fill="#a644c8"/><rect x="369.07" y="320.50" width="3.3" height="26.50" fill="#c9459c"/><rect x="369.07" y="309.90" width="3.3" height="10.60" fill="#c2a440"/><rect x="369.07" y="299.30" width="3.3" height="10.60" fill="#3f55b8"/><rect x="373.01" y="352.30" width="3.3" height="5.30" fill="#a644c8"/><rect x="373.01" y="341.70" width="3.3" height="10.60" fill="#c9459c"/><rect x="373.01" y="331.10" width="3.3" height="10.60" fill="#45c271"/><rect x="373.01" y="309.90" width="3.3" height="21.20" fill="#c2a440"/><rect x="373.01" y="304.60" width="3.3" height="5.30" fill="#3f55b8"/><rect x="376.96" y="352.30" width="3.3" height="5.30" fill="#a644c8"/><rect x="376.96" y="341.70" width="3.3" height="10.60" fill="#c9459c"/><rect x="376.96" y="331.10" width="3.3" height="10.60" fill="#45c271"/><rect x="376.96" y="325.80" width="3.3" height="5.30" fill="#3f55b8"/><rect x="380.90" y="352.30" width="3.3" height="5.30" fill="#a644c8"/><rect x="380.90" y="347.00" width="3.3" height="5.30" fill="#c9459c"/><rect x="380.90" y="341.70" width="3.3" height="5.30" fill="#45c271"/><rect x="380.90" y="331.10" width="3.3" height="10.60" fill="#c2a440"/><rect x="384.85" y="331.10" width="3.3" height="26.50" fill="#a644c8"/><rect x="384.85" y="325.80" width="3.3" height="5.30" fill="#45c271"/><rect x="384.85" y="320.50" width="3.3" height="5.30" fill="#c2a440"/><rect x="384.85" y="304.60" width="3.3" height="15.90" fill="#3f55b8"/><rect x="388.80" y="336.40" width="3.3" height="21.20" fill="#a644c8"/><rect x="388.80" y="320.50" width="3.3" height="15.90" fill="#45c271"/><rect x="392.74" y="352.30" width="3.3" height="5.30" fill="#a644c8"/><rect x="392.74" y="336.40" width="3.3" height="15.90" fill="#c9459c"/><rect x="392.74" y="331.10" width="3.3" height="5.30" fill="#45c271"/><rect x="392.74" y="320.50" width="3.3" height="10.60" fill="#3f55b8"/><rect x="396.69" y="331.10" width="3.3" height="26.50" fill="#a644c8"/><rect x="396.69" y="325.80" width="3.3" height="5.30" fill="#45c271"/><rect x="396.69" y="320.50" width="3.3" height="5.30" fill="#c2a440"/><rect x="396.69" y="315.20" width="3.3" height="5.30" fill="#3f55b8"/><rect x="400.63" y="331.10" width="3.3" height="26.50" fill="#a644c8"/><rect x="400.63" y="325.80" width="3.3" height="5.30" fill="#45c271"/><rect x="400.63" y="299.30" width="3.3" height="26.50" fill="#c2a440"/><rect x="400.63" y="294.00" width="3.3" height="5.30" fill="#3f55b8"/><rect x="404.57" y="347.00" width="3.3" height="10.60" fill="#a644c8"/><rect x="404.57" y="315.20" width="3.3" height="31.80" fill="#c9459c"/><rect x="404.57" y="299.30" width="3.3" height="15.90" fill="#45c271"/><rect x="404.57" y="294.00" width="3.3" height="5.30" fill="#c2a440"/><rect x="404.57" y="288.70" width="3.3" height="5.30" fill="#3f55b8"/><rect x="408.52" y="347.00" width="3.3" height="10.60" fill="#a644c8"/><rect x="408.52" y="331.10" width="3.3" height="15.90" fill="#c9459c"/><rect x="408.52" y="325.80" width="3.3" height="5.30" fill="#45c271"/><rect x="408.52" y="315.20" width="3.3" height="10.60" fill="#c2a440"/><rect x="408.52" y="309.90" width="3.3" height="5.30" fill="#3f55b8"/><rect x="412.47" y="347.00" width="3.3" height="10.60" fill="#a644c8"/><rect x="412.47" y="331.10" width="3.3" height="15.90" fill="#c9459c"/><rect x="412.47" y="320.50" width="3.3" height="10.60" fill="#45c271"/><rect x="412.47" y="304.60" width="3.3" height="15.90" fill="#c2a440"/><rect x="412.47" y="294.00" width="3.3" height="10.60" fill="#3f55b8"/><rect x="416.41" y="347.00" width="3.3" height="10.60" fill="#a644c8"/><rect x="416.41" y="331.10" width="3.3" height="15.90" fill="#c9459c"/><rect x="416.41" y="315.20" width="3.3" height="15.90" fill="#45c271"/><rect x="416.41" y="299.30" width="3.3" height="15.90" fill="#3f55b8"/><rect x="420.36" y="347.00" width="3.3" height="10.60" fill="#a644c8"/><rect x="420.36" y="336.40" width="3.3" height="10.60" fill="#c9459c"/><rect x="420.36" y="325.80" width="3.3" height="10.60" fill="#45c271"/><rect x="420.36" y="320.50" width="3.3" height="5.30" fill="#c2a440"/><rect x="420.36" y="304.60" width="3.3" height="15.90" fill="#3f55b8"/><rect x="424.30" y="347.00" width="3.3" height="10.60" fill="#a644c8"/><rect x="424.30" y="336.40" width="3.3" height="10.60" fill="#c9459c"/><rect x="424.30" y="331.10" width="3.3" height="5.30" fill="#45c271"/><rect x="428.25" y="347.00" width="3.3" height="10.60" fill="#a644c8"/><rect x="428.25" y="336.40" width="3.3" height="10.60" fill="#c9459c"/><rect x="428.25" y="331.10" width="3.3" height="5.30" fill="#45c271"/><rect x="428.25" y="309.90" width="3.3" height="21.20" fill="#c2a440"/><rect x="428.25" y="294.00" width="3.3" height="15.90" fill="#3f55b8"/><rect x="432.19" y="347.00" width="3.3" height="10.60" fill="#a644c8"/><rect x="432.19" y="336.40" width="3.3" height="10.60" fill="#c9459c"/><rect x="432.19" y="320.50" width="3.3" height="15.90" fill="#c2a440"/><rect x="432.19" y="309.90" width="3.3" height="10.60" fill="#3f55b8"/><rect x="436.13" y="352.30" width="3.3" height="5.30" fill="#a644c8"/><rect x="436.13" y="341.70" width="3.3" height="10.60" fill="#c9459c"/><rect x="436.13" y="325.80" width="3.3" height="15.90" fill="#45c271"/><rect x="436.13" y="309.90" width="3.3" height="15.90" fill="#c2a440"/><rect x="436.13" y="304.60" width="3.3" height="5.30" fill="#3f55b8"/><rect x="440.08" y="336.40" width="3.3" height="21.20" fill="#a644c8"/><rect x="440.08" y="331.10" width="3.3" height="5.30" fill="#45c271"/><rect x="440.08" y="325.80" width="3.3" height="5.30" fill="#c2a440"/><rect x="440.08" y="320.50" width="3.3" height="5.30" fill="#3f55b8"/><rect x="444.02" y="336.40" width="3.3" height="21.20" fill="#a644c8"/><rect x="444.02" y="331.10" width="3.3" height="5.30" fill="#45c271"/><rect x="444.02" y="320.50" width="3.3" height="10.60" fill="#c2a440"/><rect x="444.02" y="315.20" width="3.3" height="5.30" fill="#3f55b8"/><rect x="447.97" y="336.40" width="3.3" height="21.20" fill="#a644c8"/><rect x="447.97" y="331.10" width="3.3" height="5.30" fill="#45c271"/><rect x="447.97" y="325.80" width="3.3" height="5.30" fill="#c2a440"/><rect x="447.97" y="320.50" width="3.3" height="5.30" fill="#3f55b8"/><rect x="451.91" y="347.00" width="3.3" height="10.60" fill="#a644c8"/><rect x="451.91" y="325.80" width="3.3" height="21.20" fill="#c9459c"/><rect x="451.91" y="320.50" width="3.3" height="5.30" fill="#c2a440"/><rect x="451.91" y="315.20" width="3.3" height="5.30" fill="#3f55b8"/><rect x="455.86" y="352.30" width="3.3" height="5.30" fill="#a644c8"/><rect x="455.86" y="341.70" width="3.3" height="10.60" fill="#c9459c"/><rect x="455.86" y="331.10" width="3.3" height="10.60" fill="#45c271"/><rect x="455.86" y="315.20" width="3.3" height="15.90" fill="#c2a440"/><rect x="455.86" y="309.90" width="3.3" height="5.30" fill="#3f55b8"/><rect x="459.80" y="352.30" width="3.3" height="5.30" fill="#a644c8"/><rect x="459.80" y="341.70" width="3.3" height="10.60" fill="#c9459c"/><rect x="459.80" y="325.80" width="3.3" height="15.90" fill="#45c271"/><rect x="459.80" y="304.60" width="3.3" height="21.20" fill="#c2a440"/><rect x="459.80" y="288.70" width="3.3" height="15.90" fill="#3f55b8"/><rect x="463.75" y="347.00" width="3.3" height="10.60" fill="#a644c8"/><rect x="463.75" y="336.40" width="3.3" height="10.60" fill="#c9459c"/><rect x="463.75" y="325.80" width="3.3" height="10.60" fill="#45c271"/><rect x="463.75" y="315.20" width="3.3" height="10.60" fill="#c2a440"/><rect x="463.75" y="309.90" width="3.3" height="5.30" fill="#3f55b8"/><rect x="467.69" y="347.00" width="3.3" height="10.60" fill="#a644c8"/><rect x="467.69" y="331.10" width="3.3" height="15.90" fill="#c9459c"/><rect x="467.69" y="325.80" width="3.3" height="5.30" fill="#45c271"/><rect x="471.64" y="336.40" width="3.3" height="21.20" fill="#a644c8"/><rect x="471.64" y="320.50" width="3.3" height="15.90" fill="#45c271"/><rect x="471.64" y="304.60" width="3.3" height="15.90" fill="#c2a440"/><rect x="471.64" y="283.40" width="3.3" height="21.20" fill="#3f55b8"/><rect x="475.58" y="352.30" width="3.3" height="5.30" fill="#a644c8"/><rect x="475.58" y="341.70" width="3.3" height="10.60" fill="#45c271"/><rect x="475.58" y="336.40" width="3.3" height="5.30" fill="#c2a440"/><rect x="475.58" y="331.10" width="3.3" height="5.30" fill="#3f55b8"/><rect x="479.53" y="347.00" width="3.3" height="10.60" fill="#c9459c"/><rect x="479.53" y="336.40" width="3.3" height="10.60" fill="#45c271"/><rect x="479.53" y="325.80" width="3.3" height="10.60" fill="#3f55b8"/><rect x="483.48" y="336.40" width="3.3" height="21.20" fill="#a644c8"/><rect x="483.48" y="331.10" width="3.3" height="5.30" fill="#c2a440"/><rect x="483.48" y="325.80" width="3.3" height="5.30" fill="#3f55b8"/><rect x="487.42" y="352.30" width="3.3" height="5.30" fill="#c9459c"/><rect x="487.42" y="347.00" width="3.3" height="5.30" fill="#c2a440"/><rect x="487.42" y="336.40" width="3.3" height="10.60" fill="#3f55b8"/>
<path d="M266.4 273V357.6" stroke="#dfe3ea" stroke-width="0.8"/>
<rect x="489.3" y="273" width="2.6" height="85" fill="#eaecef"/>
<text x="263.5" y="359.3" font-size="4.7" fill="#868b95" text-anchor="end">0</text>
<text x="263.5" y="332.8" font-size="4.7" fill="#868b95" text-anchor="end">5</text>
<text x="263.5" y="306.3" font-size="4.7" fill="#868b95" text-anchor="end">10</text>
<text x="263.5" y="279.8" font-size="4.7" fill="#868b95" text-anchor="end">15</text>
<text transform="translate(253.6,321.5) rotate(-90)" font-size="4.7" font-weight="700" fill="#555b66" textLength="12.3" lengthAdjust="spacingAndGlyphs">Count</text>
<text x="299.6" y="364.8" font-size="4.9" fill="#959aa3" textLength="37.8" lengthAdjust="spacingAndGlyphs">2022-01-19 00:00</text>
<text x="362.1" y="364.8" font-size="4.9" fill="#959aa3" textLength="37.8" lengthAdjust="spacingAndGlyphs">2022-01-21 00:00</text>
<text x="425.1" y="364.8" font-size="4.9" fill="#959aa3" textLength="37.8" lengthAdjust="spacingAndGlyphs">2022-01-23 00:00</text>
<text x="353.8" y="371.1" font-size="4.8" fill="#555b66" font-weight="700" textLength="50.4" lengthAdjust="spacingAndGlyphs">timestamp per 3 hours</text>
<circle cx="497" cy="273.80" r="2.55" fill="#a644c8"/><text x="502.4" y="275.70" font-size="5.35" fill="#535862">python3-yaml</text><circle cx="497" cy="283.88" r="2.55" fill="#c9459c"/><text x="502.4" y="285.78" font-size="5.35" fill="#535862">uuid-runtime</text><circle cx="497" cy="293.96" r="2.55" fill="#45c271"/><text x="502.4" y="295.86" font-size="5.35" fill="#535862">libxrandr2</text><circle cx="497" cy="304.04" r="2.55" fill="#c2a440"/><text x="502.4" y="305.94" font-size="5.35" fill="#535862">libc-bin</text><circle cx="497" cy="314.12" r="2.55" fill="#3f55b8"/><text x="502.4" y="316.02" font-size="5.35" fill="#535862">login</text>
<rect x="248.3" y="371.7" width="8" height="7.8" rx="1" fill="#eceef2"/><g stroke="#7a7f89" stroke-width="0.9"><path d="M250.0 373.9H254.60000000000002M250.0 375.59999999999997H254.60000000000002M250.0 377.3H254.60000000000002"/></g>
<text x="9.2" y="402.2" font-size="5.2" fill="#1a1c21" font-weight="700" textLength="76.8" lengthAdjust="spacingAndGlyphs">Top affected packages by CVEs</text>
<g stroke="#9a9fa8" stroke-width="0.8" fill="none" stroke-linecap="round"><path d="M388.9 399.8L394.7 394.6"/><path d="M393.1 394.6H394.7V396.2"/><path d="M388.9 398.2V399.8H390.5"/></g>
<rect x="29" y="480" width="27" height="28.00" fill="#c4483f"/><rect x="29" y="456" width="27" height="24.00" fill="#3fb5c4"/><rect x="29" y="432.4" width="27" height="23.60" fill="#6fbf3f"/><rect x="29" y="415" width="27" height="17.40" fill="#8a3fc4"/><rect x="59.3" y="466.4" width="27" height="41.60" fill="#3f52c4"/><rect x="59.3" y="439" width="27" height="27.40" fill="#c43f64"/><rect x="89.4" y="480" width="27" height="28.00" fill="#c43f9e"/><rect x="89.4" y="457" width="27" height="23.00" fill="#3fbf96"/><rect x="89.4" y="440" width="27" height="17.00" fill="#a6bf3f"/><rect x="119.6" y="482.4" width="27" height="25.60" fill="#5a3fc4"/><rect x="119.6" y="457.6" width="27" height="24.80" fill="#c4a63f"/><rect x="150" y="482" width="27" height="26.00" fill="#c47a3f"/><rect x="150" y="459.6" width="27" height="22.40" fill="#3f86c4"/><rect x="180" y="481.6" width="27" height="26.40" fill="#3fbf4a"/><rect x="180" y="462" width="27" height="19.60" fill="#bf3fbf"/><rect x="210.4" y="465.2" width="27" height="42.80" fill="#a83fc4"/><rect x="240.6" y="466" width="27" height="42.00" fill="#bf3fbf"/><rect x="271" y="466" width="27" height="42.00" fill="#3fbf4a"/><rect x="301.2" y="487.4" width="27" height="20.60" fill="#c47a3f"/><rect x="301.2" y="470.4" width="27" height="17.00" fill="#3f86c4"/>
<path d="M26.5 409V508" stroke="#eceff3" stroke-width="0.7"/>
<text x="24.5" y="509.7" font-size="4.7" fill="#868b95" text-anchor="end">0</text>
<text x="24.5" y="485.5" font-size="4.7" fill="#868b95" text-anchor="end">50</text>
<text x="24.5" y="461.3" font-size="4.7" fill="#868b95" text-anchor="end">100</text>
<text x="24.5" y="437.1" font-size="4.7" fill="#868b95" text-anchor="end">150</text>
<text x="24.5" y="412.9" font-size="4.7" fill="#868b95" text-anchor="end">200</text>
<text transform="translate(12.2,466) rotate(-90)" font-size="4.7" font-weight="700" fill="#555b66" textLength="12.3" lengthAdjust="spacingAndGlyphs">Count</text>
<text transform="translate(44.3,512.5) rotate(-90)" font-size="4.7" fill="#868b95" text-anchor="end">CVE-2020-1927</text>
<text transform="translate(74.6,512.5) rotate(-90)" font-size="4.7" fill="#868b95" text-anchor="end">CVE-2013-4235</text>
<text transform="translate(104.7,512.5) rotate(-90)" font-size="4.7" fill="#868b95" text-anchor="end">CVE-2016-7730</text>
<text transform="translate(134.9,512.5) rotate(-90)" font-size="4.7" fill="#868b95" text-anchor="end">CVE-2020-1752</text>
<text transform="translate(165.3,512.5) rotate(-90)" font-size="4.7" fill="#868b95" text-anchor="end">CVE-2018-15919</text>
<text transform="translate(195.3,512.5) rotate(-90)" font-size="4.7" fill="#868b95" text-anchor="end">CVE-2019-18645</text>
<text transform="translate(225.7,512.5) rotate(-90)" font-size="4.7" fill="#868b95" text-anchor="end">CVE-2020-1747</text>
<text transform="translate(255.9,512.5) rotate(-90)" font-size="4.7" fill="#868b95" text-anchor="end">CVE-2019-1000500</text>
<text transform="translate(286.3,512.5) rotate(-90)" font-size="4.7" fill="#868b95" text-anchor="end">CVE-2019-19645</text>
<text transform="translate(316.5,512.5) rotate(-90)" font-size="4.7" fill="#868b95" text-anchor="end">CVE-2016-10540</text>
<text x="139" y="559.6" font-size="4.8" fill="#555b66" font-weight="700" textLength="78.0" lengthAdjust="spacingAndGlyphs">data.vulnerability.cve: Descending</text>
<circle cx="336" cy="412.00" r="2.55" fill="#c4483f"/><text x="341.4" y="413.90" font-size="5.35" fill="#535862">apache2-data</text><circle cx="336" cy="422.07" r="2.55" fill="#3fb5c4"/><text x="341.4" y="423.97" font-size="5.35" fill="#535862">apache2</text><circle cx="336" cy="432.14" r="2.55" fill="#6fbf3f"/><text x="341.4" y="434.04" font-size="5.35" fill="#535862">apache2-utils</text><circle cx="336" cy="442.21" r="2.55" fill="#8a3fc4"/><text x="341.4" y="444.11" font-size="5.35" fill="#535862">apache2-bin</text><circle cx="336" cy="452.28" r="2.55" fill="#3f52c4"/><text x="341.4" y="454.18" font-size="5.35" fill="#535862">login</text><circle cx="336" cy="462.35" r="2.55" fill="#c43f64"/><text x="341.4" y="464.25" font-size="5.35" fill="#535862">passwd</text><circle cx="336" cy="472.42" r="2.55" fill="#c43f9e"/><text x="341.4" y="474.32" font-size="5.35" fill="#535862">uuid-runtime</text><circle cx="336" cy="482.49" r="2.55" fill="#3fbf96"/><text x="341.4" y="484.39" font-size="5.35" fill="#535862">mount</text><circle cx="336" cy="492.56" r="2.55" fill="#a6bf3f"/><text x="341.4" y="494.46" font-size="5.35" fill="#535862">util-linux</text><circle cx="336" cy="502.63" r="2.55" fill="#5a3fc4"/><text x="341.4" y="504.53" font-size="5.35" fill="#535862">multiarch-support</text><circle cx="336" cy="512.70" r="2.55" fill="#c4a63f"/><text x="341.4" y="514.60" font-size="5.35" fill="#535862">libc-bin</text><circle cx="336" cy="522.77" r="2.55" fill="#c47a3f"/><text x="341.4" y="524.67" font-size="5.35" fill="#535862">openssh-server</text><circle cx="336" cy="532.84" r="2.55" fill="#3f86c4"/><text x="341.4" y="534.74" font-size="5.35" fill="#535862">openssh-client</text><circle cx="336" cy="542.91" r="2.55" fill="#3fbf4a"/><text x="341.4" y="544.81" font-size="5.35" fill="#535862">libsqlite3-0</text><circle cx="336" cy="552.98" r="2.55" fill="#bf3fbf"/><text x="341.4" y="554.88" font-size="5.35" fill="#535862">sqlite3</text><circle cx="336" cy="563.05" r="2.55" fill="#a83fc4"/><text x="341.4" y="564.95" font-size="5.35" fill="#535862">python3-yaml</text>
<rect x="6.0" y="561.0" width="8" height="7.8" rx="1" fill="#eceef2"/><g stroke="#7a7f89" stroke-width="0.9"><path d="M7.7 563.2H12.3M7.7 564.9H12.3M7.7 566.6H12.3"/></g>
<text x="411" y="402.2" font-size="5.2" fill="#1a1c21" font-weight="700" textLength="45.5" lengthAdjust="spacingAndGlyphs">Agents by severity</text>
<g stroke="#9a9fa8" stroke-width="0.8" fill="none" stroke-linecap="round"><path d="M790.1999999999999 399.8L796.0 394.6"/><path d="M794.4 394.6H796.0V396.2"/><path d="M790.1999999999999 398.2V399.8H791.8"/></g>
<rect x="434.50" y="411.30" width="59.1" height="30.3" fill="#238b45" stroke="rgba(25,90,45,0.4)" stroke-width="0.45"/><rect x="493.60" y="411.30" width="59.1" height="30.3" fill="#238b45" stroke="rgba(25,90,45,0.4)" stroke-width="0.45"/><rect x="552.70" y="411.30" width="59.1" height="30.3" fill="#238b45" stroke="rgba(25,90,45,0.4)" stroke-width="0.45"/><rect x="611.80" y="411.30" width="59.1" height="30.3" fill="#238b45" stroke="rgba(25,90,45,0.4)" stroke-width="0.45"/><rect x="670.90" y="411.30" width="59.1" height="30.3" fill="#238b45" stroke="rgba(25,90,45,0.4)" stroke-width="0.45"/><rect x="434.50" y="441.60" width="59.1" height="30.3" fill="#74c476" stroke="rgba(25,90,45,0.4)" stroke-width="0.45"/><rect x="493.60" y="441.60" width="59.1" height="30.3" fill="#c7e9c0" stroke="rgba(25,90,45,0.4)" stroke-width="0.45"/><rect x="552.70" y="441.60" width="59.1" height="30.3" fill="#c7e9c0" stroke="rgba(25,90,45,0.4)" stroke-width="0.45"/><rect x="611.80" y="441.60" width="59.1" height="30.3" fill="#c7e9c0" stroke="rgba(25,90,45,0.4)" stroke-width="0.45"/><rect x="670.90" y="441.60" width="59.1" height="30.3" fill="#74c476" stroke="rgba(25,90,45,0.4)" stroke-width="0.45"/><rect x="434.50" y="471.90" width="59.1" height="30.3" fill="#c7e9c0" stroke="rgba(25,90,45,0.4)" stroke-width="0.45"/><rect x="493.60" y="471.90" width="59.1" height="30.3" fill="#c7e9c0" stroke="rgba(25,90,45,0.4)" stroke-width="0.45"/><rect x="552.70" y="471.90" width="59.1" height="30.3" fill="#f7fcf5" stroke="rgba(25,90,45,0.4)" stroke-width="0.45"/><rect x="611.80" y="471.90" width="59.1" height="30.3" fill="#c7e9c0" stroke="rgba(25,90,45,0.4)" stroke-width="0.45"/><rect x="670.90" y="471.90" width="59.1" height="30.3" fill="#c7e9c0" stroke="rgba(25,90,45,0.4)" stroke-width="0.45"/><rect x="434.50" y="502.20" width="59.1" height="30.3" fill="#c7e9c0" stroke="rgba(25,90,45,0.4)" stroke-width="0.45"/><rect x="493.60" y="502.20" width="59.1" height="30.3" fill="#c7e9c0" stroke="rgba(25,90,45,0.4)" stroke-width="0.45"/><rect x="552.70" y="502.20" width="59.1" height="30.3" fill="#c7e9c0" stroke="rgba(25,90,45,0.4)" stroke-width="0.45"/><rect x="611.80" y="502.20" width="59.1" height="30.3" fill="#c7e9c0" stroke="rgba(25,90,45,0.4)" stroke-width="0.45"/><rect x="670.90" y="502.20" width="59.1" height="30.3" fill="#c7e9c0" stroke="rgba(25,90,45,0.4)" stroke-width="0.45"/>
<text x="430.5" y="428.4" font-size="4.7" fill="#868b95" text-anchor="end">Medium</text>
<text x="430.5" y="458.8" font-size="4.7" fill="#868b95" text-anchor="end">High</text>
<text x="430.5" y="489.1" font-size="4.7" fill="#868b95" text-anchor="end">Critical</text>
<text x="430.5" y="519.4" font-size="4.7" fill="#868b95" text-anchor="end">Low</text>
<text transform="translate(465.9,535.5) rotate(-90)" font-size="4.7" fill="#868b95" text-anchor="end">.Net server</text>
<text transform="translate(524.9,535.5) rotate(-90)" font-size="4.7" fill="#868b95" text-anchor="end">Ubuntu</text>
<text transform="translate(584.0,535.5) rotate(-90)" font-size="4.7" fill="#868b95" text-anchor="end">Centos</text>
<text transform="translate(643.1,535.5) rotate(-90)" font-size="4.7" fill="#868b95" text-anchor="end">Debian</text>
<text transform="translate(702.2,535.5) rotate(-90)" font-size="4.7" fill="#868b95" text-anchor="end">Windows</text>
<circle cx="738" cy="412.00" r="2.55" fill="#f7fcf5"/><text x="743.4" y="413.90" font-size="5.35" fill="#535862">0 - 25</text><circle cx="738" cy="422.10" r="2.55" fill="#c7e9c0"/><text x="743.4" y="424.00" font-size="5.35" fill="#535862">25 - 50</text><circle cx="738" cy="432.20" r="2.55" fill="#74c476"/><text x="743.4" y="434.10" font-size="5.35" fill="#535862">50 - 75</text><circle cx="738" cy="442.30" r="2.55" fill="#238b45"/><text x="743.4" y="444.20" font-size="5.35" fill="#535862">75 - 100</text>
<rect x="408.8" y="561.0" width="8" height="7.8" rx="1" fill="#eceef2"/><g stroke="#7a7f89" stroke-width="0.9"><path d="M410.5 563.2H415.1M410.5 564.9H415.1M410.5 566.6H415.1"/></g>
</svg></body></html>
